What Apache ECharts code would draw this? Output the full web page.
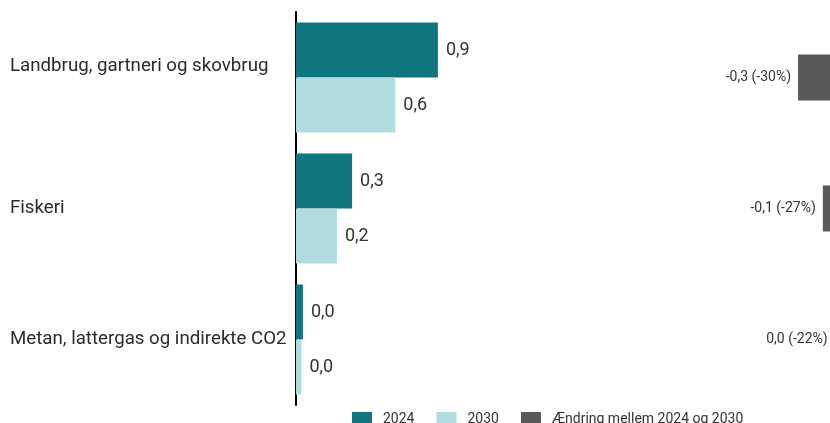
<!DOCTYPE html>
<html><head><meta charset="utf-8">
<script src="https://cdn.jsdelivr.net/npm/echarts@6/dist/echarts.min.js"></script>
<style>html,body{margin:0;padding:0;background:#fff}#c{width:830px;height:423px}</style>
</head><body><div id="c"></div>
<script>
var categories = ['Landbrug, gartneri og skovbrug', 'Fiskeri', 'Metan, lattergas og indirekte CO2'];
var values2024 = [0.86, 0.34, 0.042];
var values2030 = [0.602, 0.248, 0.033];
var changeValues = [-0.26, -0.09, -0.009];
var changePct = [-30, -27, -22];
var seriesNames = ['2024', '2030', 'Ændring mellem 2024 og 2030'];

function fmt(v) {
  var s = v.toFixed(1);
  if (s === '-0.0') s = '0.0';
  return s.replace('.', ',');
}

var chart = echarts.init(document.getElementById('c'));
var font = 'Roboto';
chart.setOption({
  animation: false,
  textStyle: { fontFamily: font },
  legend: {
    data: seriesNames,
    left: 347, top: 407,
    itemWidth: 20, itemHeight: 14, itemGap: 22,
    icon: 'rect',
    textStyle: { fontSize: 14, color: '#333', fontFamily: font, padding: [0, 0, 0, 6] }
  },
  grid: [
    { left: 296, right: 369, top: 12, bottom: 18 },
    { left: 690, right: 0, top: 12, bottom: 18 }
  ],
  xAxis: [
    { gridIndex: 0, type: 'value', min: 0, max: 1, show: false },
    { gridIndex: 1, type: 'value', min: -1, max: -0.041, show: false }
  ],
  yAxis: [
    {
      gridIndex: 0, type: 'category', inverse: true,
      data: categories,
      axisLine: { show: true, lineStyle: { color: '#000', width: 2 } },
      axisTick: { show: false },
      axisLabel: {
        fontSize: 18.7, color: '#2b2b2b', margin: 286, align: 'left', lineHeight: 22, fontFamily: font,
        formatter: function (v, i) { return i === 0 ? v + '\n' : v; }
      }
    },
    {
      gridIndex: 1, type: 'category', inverse: true, data: categories, show: false
    }
  ],
  series: [
    {
      name: seriesNames[0], type: 'bar', xAxisIndex: 0, yAxisIndex: 0,
      data: values2024, barWidth: 55, barGap: '0%',
      itemStyle: { color: '#10767f' },
      label: { show: true, position: 'right', distance: 8, fontSize: 18, color: '#333', fontFamily: font,
        formatter: function (p) { return fmt(p.value); } }
    },
    {
      name: seriesNames[1], type: 'bar', xAxisIndex: 0, yAxisIndex: 0,
      data: values2030, barWidth: 55, barGap: '0%',
      itemStyle: { color: '#b0dcdf' },
      label: { show: true, position: 'right', distance: 8, fontSize: 18, color: '#333', fontFamily: font,
        formatter: function (p) { return fmt(p.value); } }
    },
    {
      name: seriesNames[2], type: 'bar', xAxisIndex: 1, yAxisIndex: 1,
      data: changeValues, barWidth: 46, clip: false,
      itemStyle: { color: '#595959' },
      label: { show: true, position: 'left', distance: 7, fontSize: 14, color: '#333', fontFamily: font,
        formatter: function (p) { return fmt(p.value) + ' (' + changePct[p.dataIndex] + '%)'; } }
    }
  ]
});
</script>
</body></html>
